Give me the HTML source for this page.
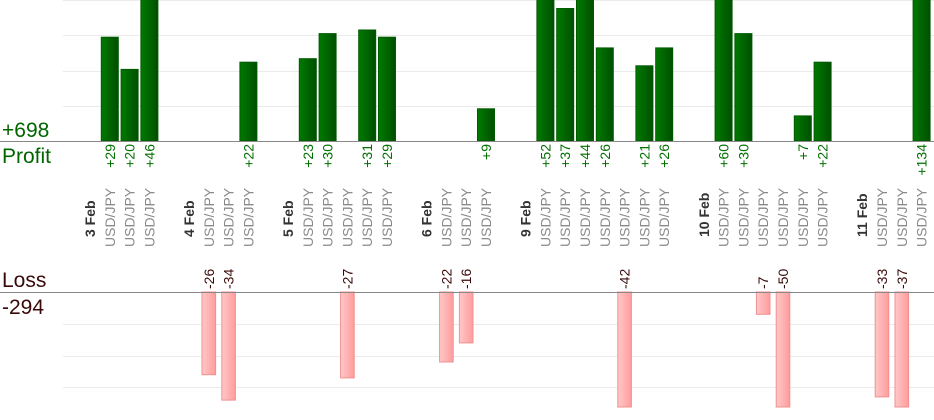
<!DOCTYPE html>
<html><head><meta charset="utf-8"><style>
html,body{margin:0;padding:0;background:#fff;}
svg{display:block;font-family:"Liberation Sans",sans-serif;}
.v{fill:#007000;font-size:14px;}
.l{fill:#3a0a0a;font-size:14px;}
.u{fill:#8a8a8a;font-size:14px;}
.d{fill:#333;font-size:14px;font-weight:bold;}
.p rect{fill:url(#g);stroke:#005a00;stroke-width:1;}
.n rect{fill:url(#r);stroke:#f29090;stroke-width:1;}
</style></head><body>
<svg width="934" height="420" viewBox="0 0 934 420">
<defs>
<linearGradient id="g" x1="0" x2="1"><stop offset="0" stop-color="#007a00"/><stop offset="1" stop-color="#004f00"/></linearGradient>
<linearGradient id="r" x1="0" x2="1"><stop offset="0" stop-color="#ffc8c8"/><stop offset="1" stop-color="#ff9c9c"/></linearGradient>
</defs>
<g stroke="#ebebeb" stroke-width="1">
<line x1="63" y1="0.5" x2="934" y2="0.5"/><line x1="63" y1="35.5" x2="934" y2="35.5"/><line x1="63" y1="71.5" x2="934" y2="71.5"/><line x1="63" y1="106.5" x2="934" y2="106.5"/>
<line x1="63" y1="324.5" x2="934" y2="324.5"/><line x1="63" y1="356.5" x2="934" y2="356.5"/><line x1="63" y1="387.5" x2="934" y2="387.5"/>
</g>
<g class="p">
<rect x="101.3" y="37.2" width="17" height="103.8"/>
<rect x="121.1" y="69.4" width="17" height="71.6"/>
<rect x="140.9" y="-1" width="17" height="142"/>
<rect x="239.9" y="62.2" width="17" height="78.8"/>
<rect x="299.3" y="58.7" width="17" height="82.3"/>
<rect x="319.1" y="33.6" width="17" height="107.4"/>
<rect x="358.7" y="30" width="17" height="111"/>
<rect x="378.5" y="37.2" width="17" height="103.8"/>
<rect x="477.5" y="108.8" width="17" height="32.2"/>
<rect x="536.9" y="-1" width="17" height="142"/>
<rect x="556.7" y="8.5" width="17" height="132.5"/>
<rect x="576.5" y="-1" width="17" height="142"/>
<rect x="596.3" y="47.9" width="17" height="93.1"/>
<rect x="635.9" y="65.8" width="17" height="75.2"/>
<rect x="655.7" y="47.9" width="17" height="93.1"/>
<rect x="715.1" y="-1" width="17" height="142"/>
<rect x="734.9" y="33.6" width="17" height="107.4"/>
<rect x="794.3" y="115.9" width="17" height="25.1"/>
<rect x="814.1" y="62.2" width="17" height="78.8"/>
<rect x="913.1" y="-1" width="17" height="142"/>
</g>
<g class="n">
<rect x="202" y="292" width="13.6" height="82.7"/>
<rect x="221.8" y="292" width="13.6" height="108.1"/>
<rect x="340.6" y="292" width="13.6" height="85.9"/>
<rect x="439.6" y="292" width="13.6" height="70"/>
<rect x="459.4" y="292" width="13.6" height="50.9"/>
<rect x="617.8" y="292" width="13.6" height="115"/>
<rect x="756.4" y="292" width="13.6" height="22.3"/>
<rect x="776.2" y="292" width="13.6" height="115"/>
<rect x="875.2" y="292" width="13.6" height="104.9"/>
<rect x="895" y="292" width="13.6" height="115"/>
</g>
<line x1="0" y1="141.5" x2="934" y2="141.5" stroke="#888" stroke-width="1"/>
<line x1="0" y1="292.5" x2="934" y2="292.5" stroke="#888" stroke-width="1"/>
<text x="2" y="137" fill="#006600" font-size="21">+698</text>
<text x="2" y="163" fill="#006600" font-size="21">Profit</text>
<text x="2" y="287" fill="#3a0a0a" font-size="21">Loss</text>
<text x="2" y="314" fill="#3a0a0a" font-size="21">-294</text>
<g class="v" text-anchor="end">
<text transform="translate(114.8,144) rotate(-90)">+29</text>
<text transform="translate(134.6,144) rotate(-90)">+20</text>
<text transform="translate(154.4,144) rotate(-90)">+46</text>
<text transform="translate(253.4,144) rotate(-90)">+22</text>
<text transform="translate(312.8,144) rotate(-90)">+23</text>
<text transform="translate(332.6,144) rotate(-90)">+30</text>
<text transform="translate(372.2,144) rotate(-90)">+31</text>
<text transform="translate(392,144) rotate(-90)">+29</text>
<text transform="translate(491,144) rotate(-90)">+9</text>
<text transform="translate(550.4,144) rotate(-90)">+52</text>
<text transform="translate(570.2,144) rotate(-90)">+37</text>
<text transform="translate(590,144) rotate(-90)">+44</text>
<text transform="translate(609.8,144) rotate(-90)">+26</text>
<text transform="translate(649.4,144) rotate(-90)">+21</text>
<text transform="translate(669.2,144) rotate(-90)">+26</text>
<text transform="translate(728.6,144) rotate(-90)">+60</text>
<text transform="translate(748.4,144) rotate(-90)">+30</text>
<text transform="translate(807.8,144) rotate(-90)">+7</text>
<text transform="translate(827.6,144) rotate(-90)">+22</text>
<text transform="translate(926.6,144) rotate(-90)">+134</text>
</g>
<g class="l" text-anchor="start">
<text transform="translate(213.8,289) rotate(-90)">-26</text>
<text transform="translate(233.6,289) rotate(-90)">-34</text>
<text transform="translate(352.4,289) rotate(-90)">-27</text>
<text transform="translate(451.4,289) rotate(-90)">-22</text>
<text transform="translate(471.2,289) rotate(-90)">-16</text>
<text transform="translate(629.6,289) rotate(-90)">-42</text>
<text transform="translate(768.2,289) rotate(-90)">-7</text>
<text transform="translate(788,289) rotate(-90)">-50</text>
<text transform="translate(887,289) rotate(-90)">-33</text>
<text transform="translate(906.8,289) rotate(-90)">-37</text>
</g>
<g class="d" text-anchor="start">
<text transform="translate(95,237) rotate(-90)">3 Feb</text>
<text transform="translate(194,237) rotate(-90)">4 Feb</text>
<text transform="translate(293,237) rotate(-90)">5 Feb</text>
<text transform="translate(431.6,237) rotate(-90)">6 Feb</text>
<text transform="translate(530.6,237) rotate(-90)">9 Feb</text>
<text transform="translate(708.8,237) rotate(-90)">10 Feb</text>
<text transform="translate(867.2,237) rotate(-90)">11 Feb</text>
</g>
<g class="u" text-anchor="start">
<text transform="translate(114.8,247) rotate(-90)">USD/JPY</text>
<text transform="translate(134.6,247) rotate(-90)">USD/JPY</text>
<text transform="translate(154.4,247) rotate(-90)">USD/JPY</text>
<text transform="translate(213.8,247) rotate(-90)">USD/JPY</text>
<text transform="translate(233.6,247) rotate(-90)">USD/JPY</text>
<text transform="translate(253.4,247) rotate(-90)">USD/JPY</text>
<text transform="translate(312.8,247) rotate(-90)">USD/JPY</text>
<text transform="translate(332.6,247) rotate(-90)">USD/JPY</text>
<text transform="translate(352.4,247) rotate(-90)">USD/JPY</text>
<text transform="translate(372.2,247) rotate(-90)">USD/JPY</text>
<text transform="translate(392,247) rotate(-90)">USD/JPY</text>
<text transform="translate(451.4,247) rotate(-90)">USD/JPY</text>
<text transform="translate(471.2,247) rotate(-90)">USD/JPY</text>
<text transform="translate(491,247) rotate(-90)">USD/JPY</text>
<text transform="translate(550.4,247) rotate(-90)">USD/JPY</text>
<text transform="translate(570.2,247) rotate(-90)">USD/JPY</text>
<text transform="translate(590,247) rotate(-90)">USD/JPY</text>
<text transform="translate(609.8,247) rotate(-90)">USD/JPY</text>
<text transform="translate(629.6,247) rotate(-90)">USD/JPY</text>
<text transform="translate(649.4,247) rotate(-90)">USD/JPY</text>
<text transform="translate(669.2,247) rotate(-90)">USD/JPY</text>
<text transform="translate(728.6,247) rotate(-90)">USD/JPY</text>
<text transform="translate(748.4,247) rotate(-90)">USD/JPY</text>
<text transform="translate(768.2,247) rotate(-90)">USD/JPY</text>
<text transform="translate(788,247) rotate(-90)">USD/JPY</text>
<text transform="translate(807.8,247) rotate(-90)">USD/JPY</text>
<text transform="translate(827.6,247) rotate(-90)">USD/JPY</text>
<text transform="translate(887,247) rotate(-90)">USD/JPY</text>
<text transform="translate(906.8,247) rotate(-90)">USD/JPY</text>
<text transform="translate(926.6,247) rotate(-90)">USD/JPY</text>
</g>
</svg>
</body></html>
